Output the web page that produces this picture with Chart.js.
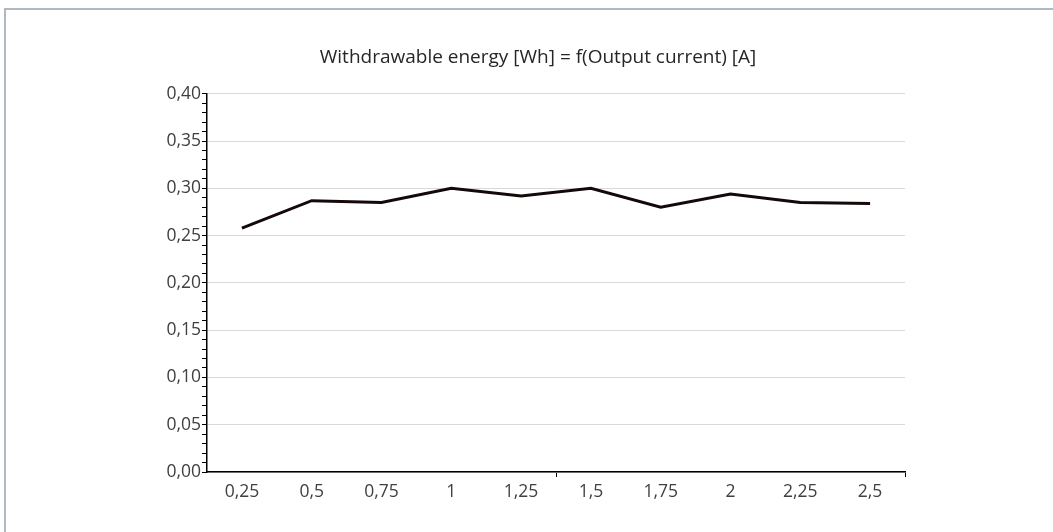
<!DOCTYPE html>
<html>
<head>
<meta charset="utf-8">
<script src="https://cdn.jsdelivr.net/npm/chart.js@4"></script>
<style>
    body { margin: 0; background: #fff; }
    #frame { position: absolute; left: 4px; top: 8px; width: 1049px; height: 524px;
             border-top: 2px solid #b0b8c0; border-left: 2px solid #b0b8c0; }
    #box { position: absolute; left: 0; top: 0; width: 1053px; height: 532px; }
</style>
</head>
<body>
<div id="frame"></div>
<div id="box"><canvas id="myChartLine"></canvas></div>
<script>
const currents = ['0,25', '0,5', '0,75', '1', '1,25', '1,5', '1,75', '2', '2,25', '2,5']
const energy = [0.258, 0.287, 0.285, 0.300, 0.292, 0.300, 0.280, 0.294, 0.285, 0.284]
const chartTitle = 'Withdrawable energy [Wh] = f(Output current) [A]'

function BuildLine() {
    var data = {
        labels: currents,
        datasets: [{
            label: 'Energy',
            data: energy,
            borderColor: '#140808',
            borderWidth: 3,
            pointRadius: 0,
            tension: 0
        }]
    };
    var ctx = document.getElementById('myChartLine');
    var myChart = new Chart(ctx, {
        type: 'line',
        data: data,
        options: {
            responsive: true,
            maintainAspectRatio: false,
            animation: false,
            // plot area 207..905, title centred around x=538
            layout: { padding: { left: 161, right: 138, top: 46, bottom: 20 } },
            plugins: {
                legend: { display: false },
                tooltip: { enabled: false },
                title: {
                    display: true,
                    text: chartTitle,
                    color: '#262626',
                    font: { family: 'Open Sans', size: 19, weight: 'normal' },
                    padding: { top: 0, bottom: 25 }
                }
            },
            scales: {
                x: {
                    offset: true,
                    afterFit: s => { s.height = 40 },
                    border: { color: '#000', width: 1.5 },
                    grid: {
                        offset: true,
                        drawOnChartArea: false,
                        tickLength: 5,
                        tickColor: c => (c.index === 5 || c.index === undefined) ? '#000' : 'rgba(0,0,0,0)'
                    },
                    ticks: { color: '#404040', font: { family: 'Open Sans', size: 17.5 }, padding: 5, maxRotation: 0 }
                },
                y: {
                    min: 0,
                    max: 0.4,
                    afterFit: s => { s.width = 46 },
                    border: { color: '#000', width: 1.5 },
                    grid: {
                        color: c => c.index % 5 === 0 ? '#d9d9d9' : 'rgba(0,0,0,0)',
                        tickColor: '#000',
                        tickLength: 5
                    },
                    ticks: {
                        stepSize: 0.01,
                        autoSkip: false,
                        color: '#404040',
                        font: { family: 'Open Sans', size: 17.5 },
                        padding: 1,
                        callback: (v, i) => i % 5 === 0 ? v.toFixed(2).replace('.', ',') : ''
                    }
                },
                // empty spacer on the right
                y2: {
                    position: 'right',
                    afterFit: s => { s.width = 10 },
                    grid: { display: false },
                    border: { display: false },
                    ticks: { display: false }
                }
            }
        }
    });
    return myChart;
}

BuildLine()
</script>
</body>
</html>
